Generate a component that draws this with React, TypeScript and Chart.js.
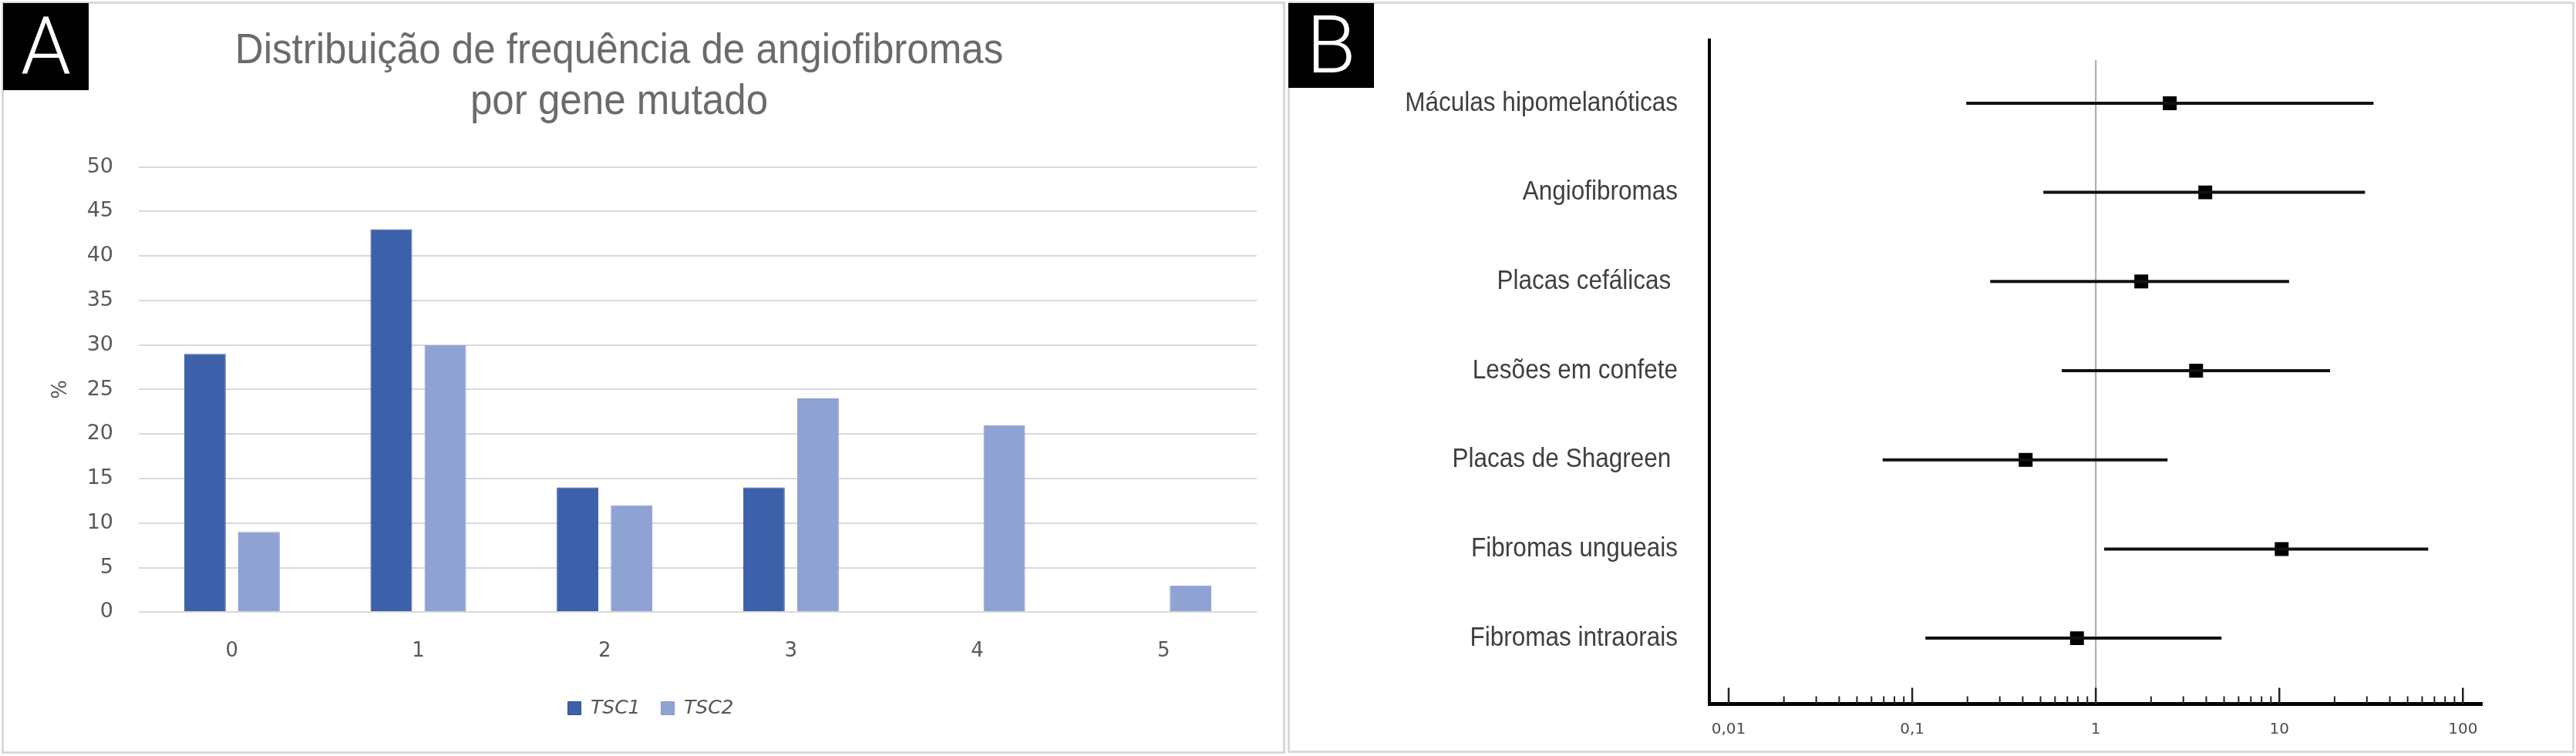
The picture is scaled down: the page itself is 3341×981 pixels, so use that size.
import React, { useEffect, useRef } from "react";
import { Chart, registerables } from "chart.js";

Chart.register(...registerables);

// ---------- Panel A data ----------
const GENE_CATEGORIES = ["0", "1", "2", "3", "4", "5"];
const SERIES_NAMES = ["TSC1", "TSC2"];
const TSC1_VALUES = [29, 43, 14, 14, 0, 0];
const TSC2_VALUES = [9, 30, 12, 24, 21, 3];
const TITLE_A = ["Distribuição de frequência de angiofibromas", "por gene mutado"];
const Y_TITLE_A = "%";

// ---------- Panel B data ----------
const FEATURES = [
  "Máculas hipomelanóticas",
  "Angiofibromas",
  "Placas cefálicas ",
  "Lesões em confete",
  "Placas de Shagreen ",
  "Fibromas ungueais",
  "Fibromas intraorais",
];
const OR_POINT = [2.53, 3.95, 1.77, 3.52, 0.415, 10.3, 0.79];
const CI_LOW = [0.197, 0.518, 0.266, 0.653, 0.069, 1.11, 0.118];
const CI_HIGH = [32.6, 29.3, 11.3, 18.9, 2.46, 64.7, 4.84];
const X_MAJOR_TICKS = [0.01, 0.1, 1, 10, 100];
const X_TICK_LABELS = ["0,01", "0,1", "1", "10", "100"];
const X_MINOR_TICKS = [
  0.02, 0.03, 0.04, 0.05, 0.06, 0.07, 0.08, 0.09,
  0.2, 0.3, 0.4, 0.5, 0.6, 0.7, 0.8, 0.9,
  2, 3, 4, 5, 6, 7, 8, 9,
  20, 30, 40, 50, 60, 70, 80, 90,
];
const REF_LINE_VALUE = 1;

const SANS = '"Liberation Sans", Arial, Helvetica, sans-serif';
const DEJAVU = '"DejaVu Sans", Verdana, sans-serif';

export default function App() {
  const refA = useRef<HTMLCanvasElement | null>(null);
  const refB = useRef<HTMLCanvasElement | null>(null);

  useEffect(() => {
    if (!refA.current || !refB.current) return;

    const titlePluginA = {
      id: "titleA",
      afterDraw(chart: any) {
        const ctx = chart.ctx;
        ctx.save();
        ctx.fillStyle = "#6b6b6b";
        ctx.font = `56px ${SANS}`;
        ctx.textAlign = "center";
        ctx.textBaseline = "alphabetic";
        TITLE_A.forEach((line, i) => {
          ctx.save();
          ctx.translate(803, 82 + i * 66);
          ctx.scale(0.912, 1);
          ctx.fillText(line, 0, 0);
          ctx.restore();
        });
        ctx.restore();
      },
    };

    const chartA = new Chart(refA.current, {
      type: "bar",
      data: {
        labels: GENE_CATEGORIES,
        datasets: [
          {
            label: SERIES_NAMES[0],
            data: TSC1_VALUES,
            backgroundColor: "#3C60A9",
            borderColor: "#2F5196",
            borderWidth: (c: any) => (c.raw === 0 ? 0 : 1),
            categoryPercentage: 0.58,
            barPercentage: 0.77,
          },
          {
            label: SERIES_NAMES[1],
            data: TSC2_VALUES,
            backgroundColor: "#8EA2D4",
            borderColor: "#8398CC",
            borderWidth: (c: any) => (c.raw === 0 ? 0 : 1),
            categoryPercentage: 0.58,
            barPercentage: 0.77,
          },
        ],
      },
      options: {
        responsive: false,
        animation: false,
        events: [],
        layout: { padding: { left: 58, right: 32, top: 216.7, bottom: 39.5 } },
        scales: {
          x: {
            grid: { display: false },
            border: { display: false },
            ticks: { color: "#595959", font: { size: 26, family: DEJAVU }, padding: 27 },
            afterFit: (s: any) => {
              s.height = 85.2;
            },
          },
          y: {
            min: 0,
            max: 50,
            ticks: { stepSize: 5, color: "#595959", font: { size: 27, family: DEJAVU }, padding: 33 },
            grid: { color: "#d9d9d9", lineWidth: 2, drawTicks: false },
            border: { display: false },
            title: {
              display: true,
              text: Y_TITLE_A,
              color: "#595959",
              font: { size: 26, family: DEJAVU },
              padding: { top: 6, bottom: 0 },
            },
            afterFit: (s: any) => {
              s.width = 122;
            },
          },
        },
        plugins: {
          legend: {
            position: "bottom",
            labels: {
              boxWidth: 17,
              boxHeight: 17,
              padding: 27,
              color: "#555555",
              font: { size: 25, style: "italic", family: DEJAVU },
            },
          },
          tooltip: { enabled: false },
          title: { display: false },
        },
      } as any,
      plugins: [titlePluginA],
    });

    const forestPlugin = {
      id: "forestExtras",
      beforeDatasetsDraw(chart: any) {
        const ctx = chart.ctx;
        const xs = chart.scales.x;
        const { top, bottom } = chart.chartArea;
        const px = xs.getPixelForValue(REF_LINE_VALUE);
        ctx.save();
        ctx.strokeStyle = "#a8a8a8";
        ctx.lineWidth = 2;
        ctx.beginPath();
        ctx.moveTo(px, top + 26);
        ctx.lineTo(px, bottom);
        ctx.stroke();
        ctx.restore();
      },
      afterDraw(chart: any) {
        const ctx = chart.ctx;
        const xs = chart.scales.x;
        const ys = chart.scales.y;
        const { bottom, left } = chart.chartArea;
        ctx.save();
        // tick marks pointing into the plot
        ctx.strokeStyle = "#222";
        ctx.lineWidth = 2.5;
        ctx.beginPath();
        X_MAJOR_TICKS.forEach((v) => {
          const p = xs.getPixelForValue(v);
          ctx.moveTo(p, bottom);
          ctx.lineTo(p, bottom - 21);
        });
        ctx.stroke();
        ctx.lineWidth = 2;
        ctx.beginPath();
        X_MINOR_TICKS.forEach((v) => {
          const p = xs.getPixelForValue(v);
          ctx.moveTo(p, bottom);
          ctx.lineTo(p, bottom - 10);
        });
        ctx.stroke();
        // row labels (slightly condensed, like the original)
        ctx.fillStyle = "#3f3f3f";
        ctx.font = `35px ${SANS}`;
        ctx.textAlign = "right";
        ctx.textBaseline = "middle";
        FEATURES.forEach((f, i) => {
          const y = ys.getPixelForValue(i + 1);
          ctx.save();
          ctx.translate(left - 41, y);
          ctx.scale(0.9, 1);
          ctx.fillText(f, 0, 0);
          ctx.restore();
        });
        ctx.restore();
      },
    };

    const ciDatasets = FEATURES.map((f, i) => ({
      label: f,
      data: [
        { x: CI_LOW[i], y: i + 1 },
        { x: CI_HIGH[i], y: i + 1 },
      ],
      showLine: true,
      borderColor: "#111111",
      borderWidth: 4,
      pointRadius: 0,
    }));

    const chartB = new Chart(refB.current, {
      type: "scatter",
      data: {
        datasets: [
          ...ciDatasets,
          {
            label: "OR",
            data: OR_POINT.map((v, i) => ({ x: v, y: i + 1 })),
            pointStyle: "rect",
            pointRadius: 12.7,
            backgroundColor: "#000000",
            borderColor: "#000000",
            borderWidth: 0,
            showLine: false,
          },
        ],
      },
      options: {
        responsive: false,
        animation: false,
        events: [],
        layout: { padding: { left: 0, right: 122, top: 52, bottom: 0 } },
        scales: {
          x: {
            type: "logarithmic",
            min: 0.00785,
            max: 127,
            grid: { display: false },
            border: { display: true, color: "#000000", width: 5 },
            afterBuildTicks: (s: any) => {
              s.ticks = X_MAJOR_TICKS.map((v) => ({ value: v }));
            },
            ticks: {
              autoSkip: false,
              maxRotation: 0,
              color: "#4d4d4d",
              font: { size: 20, family: DEJAVU },
              padding: 13,
              callback: (v: any) => {
                const idx = X_MAJOR_TICKS.findIndex((t) => Math.abs(t - v) / t < 1e-6);
                return idx >= 0 ? X_TICK_LABELS[idx] : "";
              },
            },
            afterFit: (s: any) => {
              s.height = 67.5;
            },
          },
          y: {
            type: "linear",
            reverse: true,
            min: 0.292,
            max: 7.738,
            grid: { display: false },
            border: { display: true, color: "#000000", width: 4 },
            ticks: { display: false },
            afterFit: (s: any) => {
              s.width = 549;
            },
          },
        },
        plugins: {
          legend: { display: false },
          tooltip: { enabled: false },
        },
      } as any,
      plugins: [forestPlugin],
    });

    return () => {
      chartA.destroy();
      chartB.destroy();
    };
  }, []);

  const labelBox = (left: number, top: number, w: number, h: number, text: string) => (
    <div
      style={{
        position: "absolute",
        left,
        top,
        width: w,
        height: h,
        background: "#000",
        color: "#fff",
        display: "flex",
        alignItems: "center",
        justifyContent: "center",
        fontFamily: 'Roboto, "Liberation Sans", Arial, sans-serif',
        fontWeight: 300,
        fontSize: 104,
        lineHeight: 1,
      }}
    >
      {text}
    </div>
  );

  return (
    <div
      style={{
        position: "absolute",
        left: 0,
        top: 0,
        width: 3341,
        height: 981,
        background: "#ffffff",
        overflow: "hidden",
      }}
    >
      <div
        style={{
          position: "absolute",
          left: 2,
          top: 2,
          width: 1665,
          height: 976,
          border: "3px solid #d9d9d9",
          boxSizing: "border-box",
        }}
      />
      <div
        style={{
          position: "absolute",
          left: 1670,
          top: 2,
          width: 1669,
          height: 975,
          border: "3px solid #d9d9d9",
          boxSizing: "border-box",
        }}
      />
      <canvas
        ref={refA}
        width={1662}
        height={981}
        style={{ position: "absolute", left: 0, top: 0, width: 1662, height: 981 }}
      />
      <canvas
        ref={refB}
        width={1673}
        height={981}
        style={{ position: "absolute", left: 1668, top: 0, width: 1673, height: 981 }}
      />
      {labelBox(4, 4, 111, 113, "A")}
      {labelBox(1671, 4, 111, 110, "B")}
    </div>
  );
}
